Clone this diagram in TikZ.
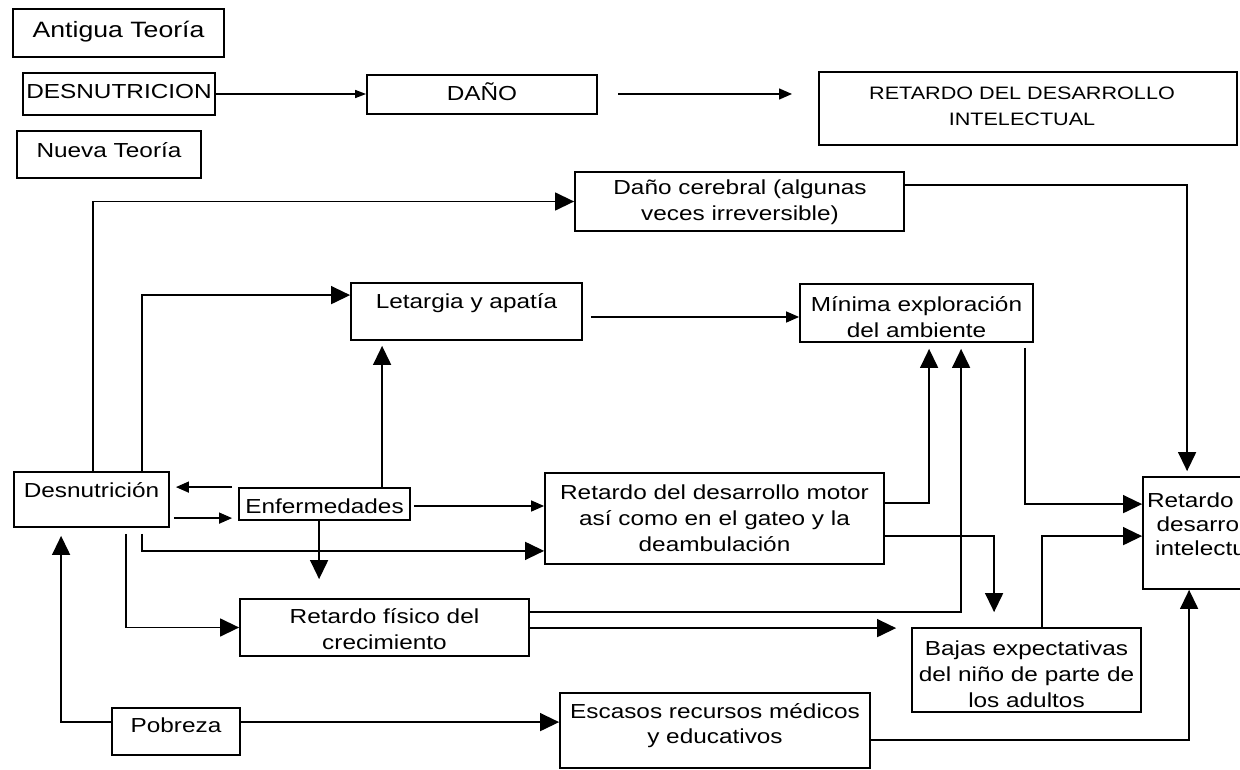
\documentclass[tikz,border=0pt]{standalone}
\usepackage{fontspec}
\setmainfont{Liberation Sans}[FakeStretch=1.2]
\usetikzlibrary{arrows.meta,calc}
\tikzset{
  box/.style={draw=black, line width=1.8pt, inner sep=0pt},
  txt/.style={inner sep=0pt, anchor=base, font=\fontsize{20.3}{26}\selectfont},
  conn/.style={draw=black, line width=1.4pt},
  arrL/.style={conn, -{Triangle[length=19pt,width=18pt]}},
  arrM/.style={conn, -{Triangle[length=13pt,width=11pt]}},
  arrS/.style={conn, -{Triangle[length=11pt,width=8pt]}},
}
\newcommand{\pbox}[5]{\node[box, minimum width={#4-#2}, minimum height={#5-#3}] (#1) at ({(#2+#4)/2},{(#3+#5)/2}) {};}
\newcommand{\tl}[1]{\begin{tabular}[t]{@{}c@{}}#1\end{tabular}}
\begin{document}
\begin{tikzpicture}[x=1pt,y=-1pt]
\useasboundingbox (0,0) rectangle (1240,770);
\fill[white] (0,0) rectangle (1240,770);
\clip (0,0) rectangle (1240,770);

% boxes
\pbox{antig}{13}{9}{224}{57}
\pbox{desnU}{23}{73}{215}{115}
\pbox{dano}{367}{75}{597}{114}
\pbox{retT}{819}{72}{1237}{145}
\pbox{nueva}{17}{131}{201}{178}
\pbox{dcer}{575}{172}{904}{231}
\pbox{leta}{351}{283}{582}{340}
\pbox{mini}{800}{284}{1033}{342}
\pbox{desn}{14}{472}{169}{527}
\pbox{enf}{239}{488}{410}{520}
\pbox{rmot}{545}{473}{884}{564}
\pbox{rint}{1143}{477}{1290}{589}
\pbox{rfis}{240}{599}{529}{656}
\pbox{bajas}{912}{628}{1141}{712}
\pbox{pob}{112}{708}{240}{755}
\pbox{esc}{560}{693}{870}{768}

% texts
\node[txt, font=\fontsize{22.2}{26}\selectfont] (antigT) at (118.5,38) {Antigua Teoría};
\node[txt] (desnUT) at (119,99) {DESNUTRICION};
\node[txt] (danoT) at (482,101) {DAÑO};
\node[txt, font=\fontsize{18}{26}\selectfont] (retTT) at (1022,100) {\tl{RETARDO DEL DESARROLLO\\INTELECTUAL}};
\node[txt] (nuevaT) at (109,158) {Nueva Teoría};
\node[txt] (dcerT) at (740,195) {\tl{Daño cerebral (algunas\\veces irreversible)}};
\node[txt] (letaT) at (466.5,308) {Letargia y apatía};
\node[txt] (miniT) at (916.5,311) {\tl{Mínima exploración\\del ambiente}};
\node[txt] (desnT) at (91.5,497) {Desnutrición};
\node[txt] (enfT) at (324.5,513) {Enfermedades};
\node[txt] (rmotT) at (714.5,499) {\tl{Retardo del desarrollo motor\\así como en el gateo y la\\deambulación}};
\node[txt, font=\fontsize{20.3}{24}\selectfont] (rintT) at (1210,507) {\tl{Retardo del\\desarrollo\\intelectual}};
\node[txt] (rfisT) at (384.5,623) {\tl{Retardo físico del\\crecimiento}};
\node[txt] (bajasT) at (1026.5,655) {\tl{Bajas expectativas\\del niño de parte de\\los adultos}};
\node[txt] (pobT) at (176,732) {Pobreza};
\node[txt, font=\fontsize{20.3}{25}\selectfont] (escT) at (715,718) {\tl{Escasos recursos médicos\\y educativos}};

% helper coordinates
\coordinate (fa) at (618,94);
\coordinate (fb) at (792,94);
\coordinate (p1) at ($(leta.east)+(8,5.5)$);
\coordinate (p2) at ($(enf.east)+(3,2)$);
\coordinate (p3) at ($(pob.north east)+(0,15)$);
\coordinate (p4) at ($(rfis.north east)+(0,30)$);
\coordinate (p5) at ($(bajas.north west)+(-15,0)$);
\coordinate (p6) at ($(desn.north east)+(4,47)$);
\coordinate (p7) at ($(enf.south west)+(-6,0)$);

% connectors
\draw[arrS] (desnU.east) -- (desnU.east -| dano.west);
\draw[arrM] (fa) -- (fb);
\draw[arrL] ($(desn.north west)+(80,0)$) |- (dcer.west);
\draw[arrL] ($(desn.north west)+(129,0)$) |- ($(leta.north west)+(0,13)$);
\draw[arrM] (p1) -- (p1 -| mini.west);
\draw[arrL] ($(enf.north west)+(144,0)$) -- ($(leta.south west)+(32,5)$);
\draw[arrM] ($(enf.north west)+(-6,0)$) -- ($(desn.north east)+(6,16)$);
\draw[arrM] (p6) -- (p6 -| p7);
\draw[arrM] (p2) -- (p2 -| rmot.west);
\draw[arrL] ($(enf.south west)+(81,0)$) -- ($(rfis.north west)+(80,-19)$);
\draw[arrL] ($(desn.south west)+(129,6)$) |- ($(rmot.south west)+(0,-14)$);
\draw[arrL] ($(desn.south west)+(113,6)$) |- (rfis.west);
\draw[arrL] ($(pob.north west)+(0,15)$) -| ($(desn.south west)+(48,8)$);
\draw[arrL] (p3) -- (p3 -| esc.west);
\draw[arrL] ($(rmot.north east)+(0,31)$) -| ($(mini.south west)+(130,6)$);
\draw[arrL] ($(rmot.north east)+(0,64)$) -| ($(bajas.north west)+(83,-15)$);
\draw[arrL] ($(rfis.north east)+(0,14)$) -| ($(mini.south west)+(162,6)$);
\draw[arrL] (p4) -- (p4 -| p5);
\draw[arrL] ($(mini.south west)+(226,5)$) |- ($(rint.north west)+(0,28)$);
\draw[arrL] ($(bajas.north west)+(131,0)$) |- ($(rint.north west)+(0,60)$);
\draw[arrL] ($(dcer.north east)+(0,14)$) -| ($(rint.north west)+(45,-5)$);
\draw[arrL] ($(esc.north east)+(0,48)$) -| ($(rint.south west)+(47,0)$);
\end{tikzpicture}
\end{document}
